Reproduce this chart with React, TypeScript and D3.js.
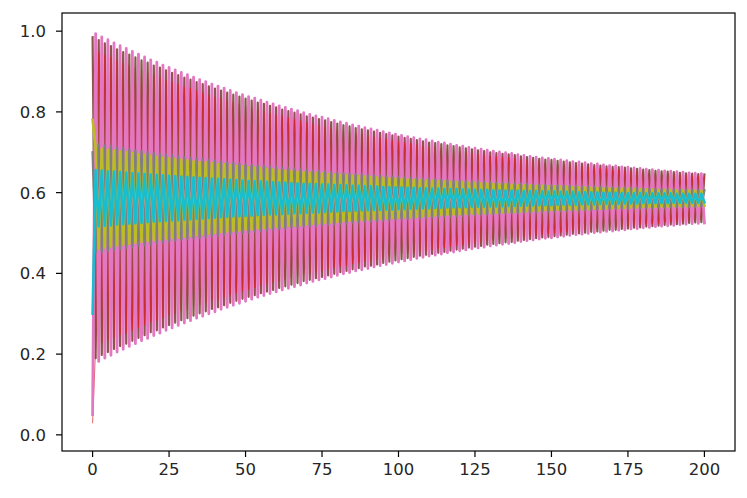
import React from "react";
import * as d3 from "d3";

// Step index 0..200 (x axis); each series value per step.
const brownSeries: number[] = [0.985,
0.190,0.978,0.198,0.970,0.205,0.963,0.213,0.955,0.220,0.948,
0.226,0.942,0.233,0.935,0.240,0.928,0.247,0.922,0.254,0.915,
0.259,0.910,0.266,0.903,0.272,0.897,0.278,0.891,0.284,0.885,
0.289,0.880,0.295,0.874,0.301,0.869,0.306,0.863,0.312,0.858,
0.316,0.853,0.321,0.848,0.327,0.843,0.332,0.838,0.337,0.833,
0.342,0.828,0.346,0.823,0.351,0.820,0.355,0.815,0.359,0.811,
0.364,0.806,0.368,0.802,0.372,0.798,0.376,0.794,0.381,0.789,
0.384,0.786,0.388,0.782,0.391,0.779,0.395,0.775,0.399,0.771,
0.403,0.767,0.406,0.764,0.410,0.760,0.413,0.757,0.417,0.754,
0.419,0.751,0.422,0.748,0.426,0.745,0.429,0.742,0.432,0.739,
0.435,0.736,0.438,0.733,0.441,0.730,0.444,0.727,0.446,0.724,
0.448,0.723,0.451,0.720,0.453,0.717,0.456,0.715,0.459,0.712,
0.461,0.710,0.464,0.707,0.466,0.705,0.468,0.703,0.471,0.700,
0.473,0.698,0.475,0.696,0.477,0.695,0.478,0.693,0.481,0.690,
0.483,0.688,0.485,0.686,0.487,0.684,0.489,0.682,0.490,0.681,
0.492,0.679,0.494,0.677,0.496,0.675,0.498,0.673,0.499,0.672,
0.501,0.670,0.503,0.668,0.504,0.667,0.506,0.665,0.508,0.664,
0.508,0.663,0.510,0.662,0.511,0.660,0.513,0.659,0.514,0.657,
0.516,0.656,0.517,0.654,0.518,0.653,0.520,0.652,0.521,0.651,
0.522,0.649,0.523,0.648,0.525,0.647,0.526,0.646,0.527,0.645];

const redSeries: number[] = [0.03,
0.219,0.949,0.227,0.941,0.234,0.936,0.240,0.928,0.247,0.921,
0.252,0.916,0.259,0.909,0.266,0.903,0.272,0.897,0.279,0.890,
0.283,0.886,0.290,0.879,0.296,0.874,0.301,0.868,0.307,0.862,
0.310,0.859,0.316,0.853,0.322,0.848,0.327,0.842,0.333,0.837,
0.335,0.834,0.340,0.829,0.346,0.824,0.351,0.819,0.356,0.814,
0.360,0.810,0.364,0.805,0.369,0.802,0.373,0.797,0.377,0.793,
0.380,0.790,0.384,0.786,0.388,0.782,0.392,0.778,0.397,0.773,
0.399,0.771,0.403,0.767,0.406,0.764,0.410,0.760,0.414,0.756,
0.416,0.754,0.419,0.751,0.423,0.747,0.426,0.744,0.430,0.741,
0.431,0.739,0.434,0.736,0.438,0.733,0.441,0.730,0.444,0.727,
0.446,0.725,0.449,0.722,0.452,0.719,0.455,0.716,0.457,0.713,
0.458,0.713,0.461,0.710,0.463,0.707,0.466,0.705,0.469,0.702,
0.470,0.701,0.473,0.698,0.475,0.696,0.477,0.694,0.480,0.691,
0.481,0.690,0.483,0.688,0.485,0.687,0.486,0.685,0.489,0.682,
0.490,0.681,0.492,0.679,0.494,0.677,0.496,0.675,0.497,0.674,
0.499,0.672,0.501,0.670,0.503,0.668,0.505,0.666,0.506,0.665,
0.507,0.664,0.509,0.662,0.510,0.661,0.512,0.659,0.514,0.658,
0.514,0.657,0.516,0.656,0.517,0.654,0.519,0.653,0.520,0.651,
0.521,0.651,0.522,0.649,0.523,0.648,0.525,0.647,0.526,0.646,
0.527,0.644,0.528,0.643,0.530,0.642,0.531,0.641,0.532,0.640];

const pinkSeries: number[] = [0.05,
0.994,0.182,0.986,0.190,0.979,0.197,0.971,0.205,0.964,0.212,
0.957,0.219,0.950,0.226,0.943,0.233,0.936,0.239,0.929,0.246,
0.923,0.252,0.916,0.259,0.910,0.265,0.904,0.271,0.898,0.277,
0.892,0.283,0.886,0.289,0.880,0.294,0.875,0.300,0.869,0.305,
0.864,0.311,0.859,0.316,0.853,0.321,0.848,0.326,0.843,0.331,
0.838,0.336,0.834,0.341,0.829,0.345,0.824,0.350,0.820,0.354,
0.815,0.359,0.811,0.363,0.807,0.367,0.803,0.371,0.798,0.376,
0.794,0.380,0.790,0.384,0.787,0.387,0.783,0.391,0.779,0.395,
0.775,0.399,0.772,0.402,0.768,0.406,0.765,0.409,0.761,0.412,
0.758,0.416,0.755,0.419,0.751,0.422,0.748,0.425,0.745,0.428,
0.742,0.431,0.739,0.434,0.736,0.437,0.733,0.440,0.731,0.443,
0.728,0.445,0.725,0.448,0.723,0.451,0.720,0.453,0.717,0.456,
0.715,0.458,0.712,0.461,0.710,0.463,0.708,0.465,0.705,0.468,
0.703,0.470,0.701,0.472,0.699,0.474,0.697,0.476,0.694,0.479,
0.692,0.481,0.690,0.483,0.688,0.485,0.686,0.487,0.685,0.488,
0.683,0.490,0.681,0.492,0.679,0.494,0.677,0.496,0.676,0.497,
0.674,0.499,0.672,0.501,0.671,0.502,0.669,0.504,0.667,0.505,
0.666,0.507,0.664,0.508,0.663,0.510,0.661,0.511,0.660,0.513,
0.658,0.514,0.657,0.516,0.656,0.517,0.654,0.518,0.653,0.519,
0.652,0.521,0.651,0.522,0.649,0.523,0.648,0.524,0.647,0.525];

const graySeries: number[] = [0.70,
0.451,0.720,0.453,0.717,0.456,0.715,0.458,0.712,0.461,0.710,
0.463,0.707,0.466,0.705,0.468,0.703,0.470,0.701,0.472,0.698,
0.475,0.696,0.477,0.694,0.479,0.692,0.481,0.690,0.483,0.688,
0.485,0.686,0.487,0.684,0.488,0.683,0.490,0.681,0.492,0.679,
0.494,0.677,0.496,0.675,0.497,0.674,0.499,0.672,0.501,0.670,
0.502,0.669,0.504,0.667,0.505,0.666,0.507,0.664,0.509,0.663,
0.510,0.661,0.511,0.660,0.513,0.658,0.514,0.657,0.516,0.656,
0.517,0.654,0.518,0.653,0.520,0.652,0.521,0.650,0.522,0.649,
0.523,0.648,0.524,0.647,0.526,0.646,0.527,0.645,0.528,0.643,
0.529,0.642,0.530,0.641,0.531,0.640,0.532,0.639,0.533,0.638,
0.534,0.637,0.535,0.636,0.536,0.635,0.537,0.634,0.538,0.633,
0.539,0.633,0.540,0.632,0.541,0.631,0.542,0.630,0.542,0.629,
0.543,0.628,0.544,0.627,0.545,0.627,0.546,0.626,0.546,0.625,
0.547,0.624,0.548,0.624,0.549,0.623,0.549,0.622,0.550,0.622,
0.551,0.621,0.551,0.620,0.552,0.620,0.553,0.619,0.553,0.618,
0.554,0.618,0.555,0.617,0.555,0.617,0.556,0.616,0.556,0.615,
0.557,0.615,0.557,0.614,0.558,0.614,0.558,0.613,0.559,0.613,
0.560,0.612,0.560,0.612,0.561,0.611,0.561,0.611,0.561,0.610,
0.562,0.610,0.562,0.609,0.563,0.609,0.563,0.608,0.564,0.608,
0.564,0.608,0.565,0.607,0.565,0.607,0.565,0.606,0.566,0.606];

const oliveSeries: number[] = [0.78,
0.711,0.462,0.709,0.464,0.706,0.467,0.704,0.469,0.702,0.471,
0.700,0.473,0.698,0.476,0.695,0.478,0.693,0.480,0.691,0.482,
0.689,0.484,0.687,0.486,0.685,0.488,0.684,0.489,0.682,0.491,
0.680,0.493,0.678,0.495,0.676,0.497,0.675,0.498,0.673,0.500,
0.671,0.502,0.670,0.503,0.668,0.505,0.666,0.506,0.665,0.508,
0.663,0.509,0.662,0.511,0.661,0.512,0.659,0.514,0.658,0.515,
0.656,0.516,0.655,0.518,0.654,0.519,0.652,0.520,0.651,0.522,
0.650,0.523,0.649,0.524,0.648,0.525,0.646,0.526,0.645,0.527,
0.644,0.529,0.643,0.530,0.642,0.531,0.641,0.532,0.640,0.533,
0.639,0.534,0.638,0.535,0.637,0.536,0.636,0.537,0.635,0.538,
0.634,0.539,0.633,0.539,0.632,0.540,0.631,0.541,0.630,0.542,
0.630,0.543,0.629,0.544,0.628,0.545,0.627,0.545,0.626,0.546,
0.626,0.547,0.625,0.548,0.624,0.548,0.623,0.549,0.623,0.550,
0.622,0.550,0.621,0.551,0.621,0.552,0.620,0.552,0.619,0.553,
0.619,0.554,0.618,0.554,0.617,0.555,0.617,0.556,0.616,0.556,
0.616,0.557,0.615,0.557,0.615,0.558,0.614,0.558,0.613,0.559,
0.613,0.559,0.612,0.560,0.612,0.560,0.611,0.561,0.611,0.561,
0.610,0.562,0.610,0.562,0.610,0.563,0.609,0.563,0.609,0.564,
0.608,0.564,0.608,0.564,0.607,0.565,0.607,0.565,0.607,0.566,
0.606,0.566,0.606,0.566,0.606,0.567,0.605,0.567,0.605,0.567];

const cyanSeries: number[] = [0.30,
0.656,0.517,0.655,0.518,0.653,0.519,0.652,0.521,0.651,0.522,
0.650,0.523,0.648,0.524,0.647,0.525,0.646,0.527,0.645,0.528,
0.644,0.529,0.643,0.530,0.642,0.531,0.641,0.532,0.640,0.533,
0.639,0.534,0.638,0.535,0.637,0.536,0.636,0.537,0.635,0.538,
0.634,0.539,0.633,0.540,0.632,0.541,0.631,0.541,0.630,0.542,
0.629,0.543,0.628,0.544,0.628,0.545,0.627,0.546,0.626,0.546,
0.625,0.547,0.625,0.548,0.624,0.549,0.623,0.549,0.622,0.550,
0.622,0.551,0.621,0.551,0.620,0.552,0.620,0.553,0.619,0.553,
0.619,0.554,0.618,0.554,0.617,0.555,0.617,0.556,0.616,0.556,
0.616,0.557,0.615,0.557,0.614,0.558,0.614,0.558,0.613,0.559,
0.613,0.559,0.612,0.560,0.612,0.560,0.611,0.561,0.611,0.561,
0.610,0.562,0.610,0.562,0.609,0.563,0.609,0.563,0.609,0.564,
0.608,0.564,0.608,0.565,0.607,0.565,0.607,0.565,0.607,0.566,
0.606,0.566,0.606,0.566,0.605,0.567,0.605,0.567,0.605,0.568,
0.604,0.568,0.604,0.568,0.604,0.569,0.603,0.569,0.603,0.569,
0.603,0.570,0.602,0.570,0.602,0.570,0.602,0.570,0.601,0.571,
0.601,0.571,0.601,0.571,0.601,0.572,0.600,0.572,0.600,0.572,
0.600,0.572,0.599,0.573,0.599,0.573,0.599,0.573,0.599,0.574,
0.598,0.574,0.598,0.574,0.598,0.574,0.598,0.574,0.598,0.575,
0.597,0.575,0.597,0.575,0.597,0.575,0.597,0.575,0.597,0.576];

const seriesList: number[][] = [brownSeries, redSeries, pinkSeries, graySeries, oliveSeries, cyanSeries];
const seriesColors: string[] = ["#8c564b", "#d62728", "#e377c2", "#7f7f7f", "#bcbd22", "#17becf"];
const seriesWidths: number[] = [2.2, 0.7, 2.8, 2.3, 2.6, 2.6];

const xTicks: number[] = [0, 25, 50, 75, 100, 125, 150, 175, 200];
const yTicks: number[] = [0.0, 0.2, 0.4, 0.6, 0.8, 1.0];

const W = 747;
const H = 498;
const M = { left: 62, right: 735, top: 13, bottom: 451 };

export default function App() {
  const x = d3.scaleLinear().domain([-10, 210]).range([M.left, M.right]);
  const y = d3.scaleLinear().domain([-0.04, 1.045]).range([M.bottom, M.top]);
  const line = d3
    .line<number>()
    .x((_, i) => x(i))
    .y((d) => y(d));
  const font = "'DejaVu Sans', sans-serif";
  return (
    <svg
      width={W}
      height={H}
      style={{ position: "absolute", left: 0, top: 0, background: "#fff" }}
    >
      <defs>
        <clipPath id="plot">
          <rect x={M.left} y={M.top} width={M.right - M.left} height={M.bottom - M.top} />
        </clipPath>
      </defs>
      <g clipPath="url(#plot)">
        {seriesList.map((s, i) => (
          <path
            key={i}
            d={line(s) || ""}
            fill="none"
            stroke={seriesColors[i]}
            strokeWidth={seriesWidths[i]}
            strokeLinejoin="round"
            strokeLinecap="square"
          />
        ))}
      </g>
      <rect
        x={M.left}
        y={M.top}
        width={M.right - M.left}
        height={M.bottom - M.top}
        fill="none"
        stroke="#000"
        strokeWidth={1.2}
      />
      {xTicks.map((t) => (
        <g key={"x" + t}>
          <line x1={x(t)} x2={x(t)} y1={M.bottom} y2={M.bottom + 6} stroke="#000" strokeWidth={1.2} />
          <text
            x={x(t)}
            y={M.bottom + 24}
            textAnchor="middle"
            fontFamily={font}
            fontSize={16.5}
            fill="#262626"
          >
            {t}
          </text>
        </g>
      ))}
      {yTicks.map((t) => (
        <g key={"y" + t}>
          <line x1={M.left - 6} x2={M.left} y1={y(t)} y2={y(t)} stroke="#000" strokeWidth={1.2} />
          <text
            x={M.left - 16}
            y={y(t)}
            dy="0.36em"
            textAnchor="end"
            fontFamily={font}
            fontSize={16.5}
            fill="#262626"
          >
            {t.toFixed(1)}
          </text>
        </g>
      ))}
    </svg>
  );
}
